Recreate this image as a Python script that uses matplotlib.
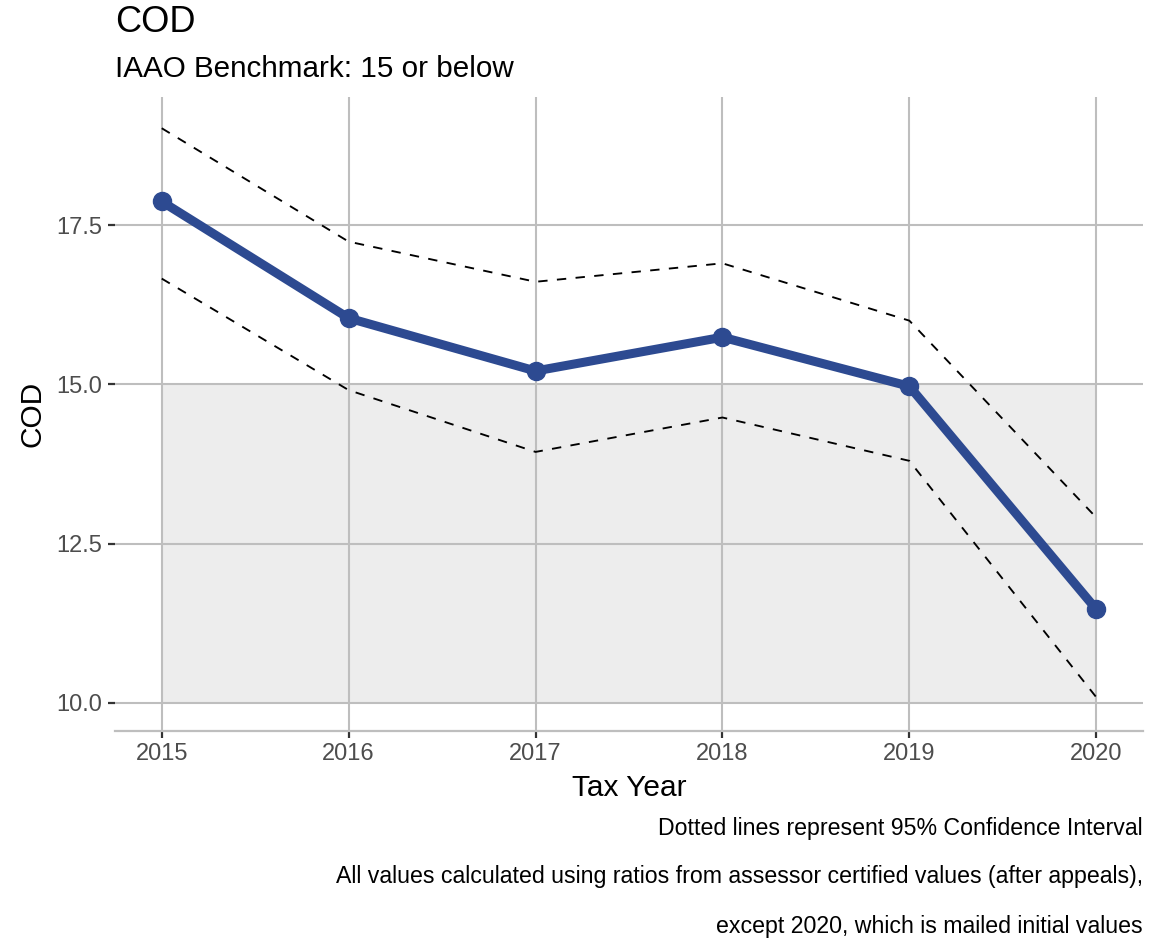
import matplotlib
matplotlib.use("Agg")
import matplotlib.pyplot as plt
from matplotlib.patches import Rectangle

# data
years = [2015, 2016, 2017, 2018, 2019, 2020]
cod = [17.87, 16.04, 15.21, 15.74, 14.97, 11.47]
ci_upper = [19.02, 17.24, 16.61, 16.90, 16.00, 12.91]
ci_lower = [16.66, 14.91, 13.94, 14.48, 13.80, 10.09]
y_ticks = [10.0, 12.5, 15.0, 17.5]
benchmark = 15.0

BLUE = "#2d4a91"
GRID = "#bebebe"
SHADE = "#ededed"
TICKTXT = "#4d4d4d"

plt.rcParams["font.family"] = ["Liberation Sans", "DejaVu Sans"]

fig = plt.figure(figsize=(11.65, 9.41), dpi=100, facecolor="white")
ax = fig.add_axes([115 / 1165, 1 - 731 / 941, (1143 - 115) / 1165, (731 - 97) / 941])
ax.set_facecolor("white")

# benchmark band
ax.add_patch(Rectangle((years[0], y_ticks[0]), years[-1] - years[0], benchmark - y_ticks[0],
                       facecolor=SHADE, edgecolor="none", zorder=0))

ax.set_xlim(2014.75, 2020.25)
ax.set_ylim(9.56, 19.51)
ax.set_xticks(years)
ax.set_yticks(y_ticks)
ax.set_xticklabels([str(y) for y in years])
ax.set_yticklabels([f"{v:.1f}" for v in y_ticks])
ax.grid(True, color=GRID, linewidth=1.5, zorder=1)
ax.set_axisbelow(True)

for s in ["top", "right", "left"]:
    ax.spines[s].set_visible(False)
ax.spines["bottom"].set_color(GRID)
ax.spines["bottom"].set_linewidth(1.6)

ax.tick_params(axis="both", colors="#333333", length=5, width=1.6,
               labelsize=17, labelcolor=TICKTXT, pad=4)

# CI lines
ax.plot(years, ci_upper, color="black", lw=1.35, linestyle=(0, (5, 5)), zorder=3)
ax.plot(years, ci_lower, color="black", lw=1.35, linestyle=(0, (5, 5)), zorder=3)

# main line
ax.plot(years, cod, color=BLUE, lw=6.5, solid_capstyle="butt", zorder=4)
ax.plot(years, cod, "o", color=BLUE, markersize=13, zorder=5)

ax.set_xlabel("Tax Year", fontsize=21.5, color="black", labelpad=6)
ax.set_ylabel("COD", fontsize=21.5, color="black", labelpad=7)

fig.text(115 / 1165, 1 - 22 / 941, "COD", fontsize=26, ha="left", va="center")
fig.text(115 / 1165, 1 - 69 / 941, "IAAO Benchmark: 15 or below", fontsize=21.3,
         ha="left", va="center")

caps = ["Dotted lines represent 95% Confidence Interval",
        "All values calculated using ratios from assessor certified values (after appeals),",
        "except 2020, which is mailed initial values"]
for i, c in enumerate(caps):
    fig.text(1143 / 1165, 1 - (828 + 49 * i) / 941, c, fontsize=16.7, ha="right", va="center")

fig.savefig("out.png", dpi=100, facecolor="white")
